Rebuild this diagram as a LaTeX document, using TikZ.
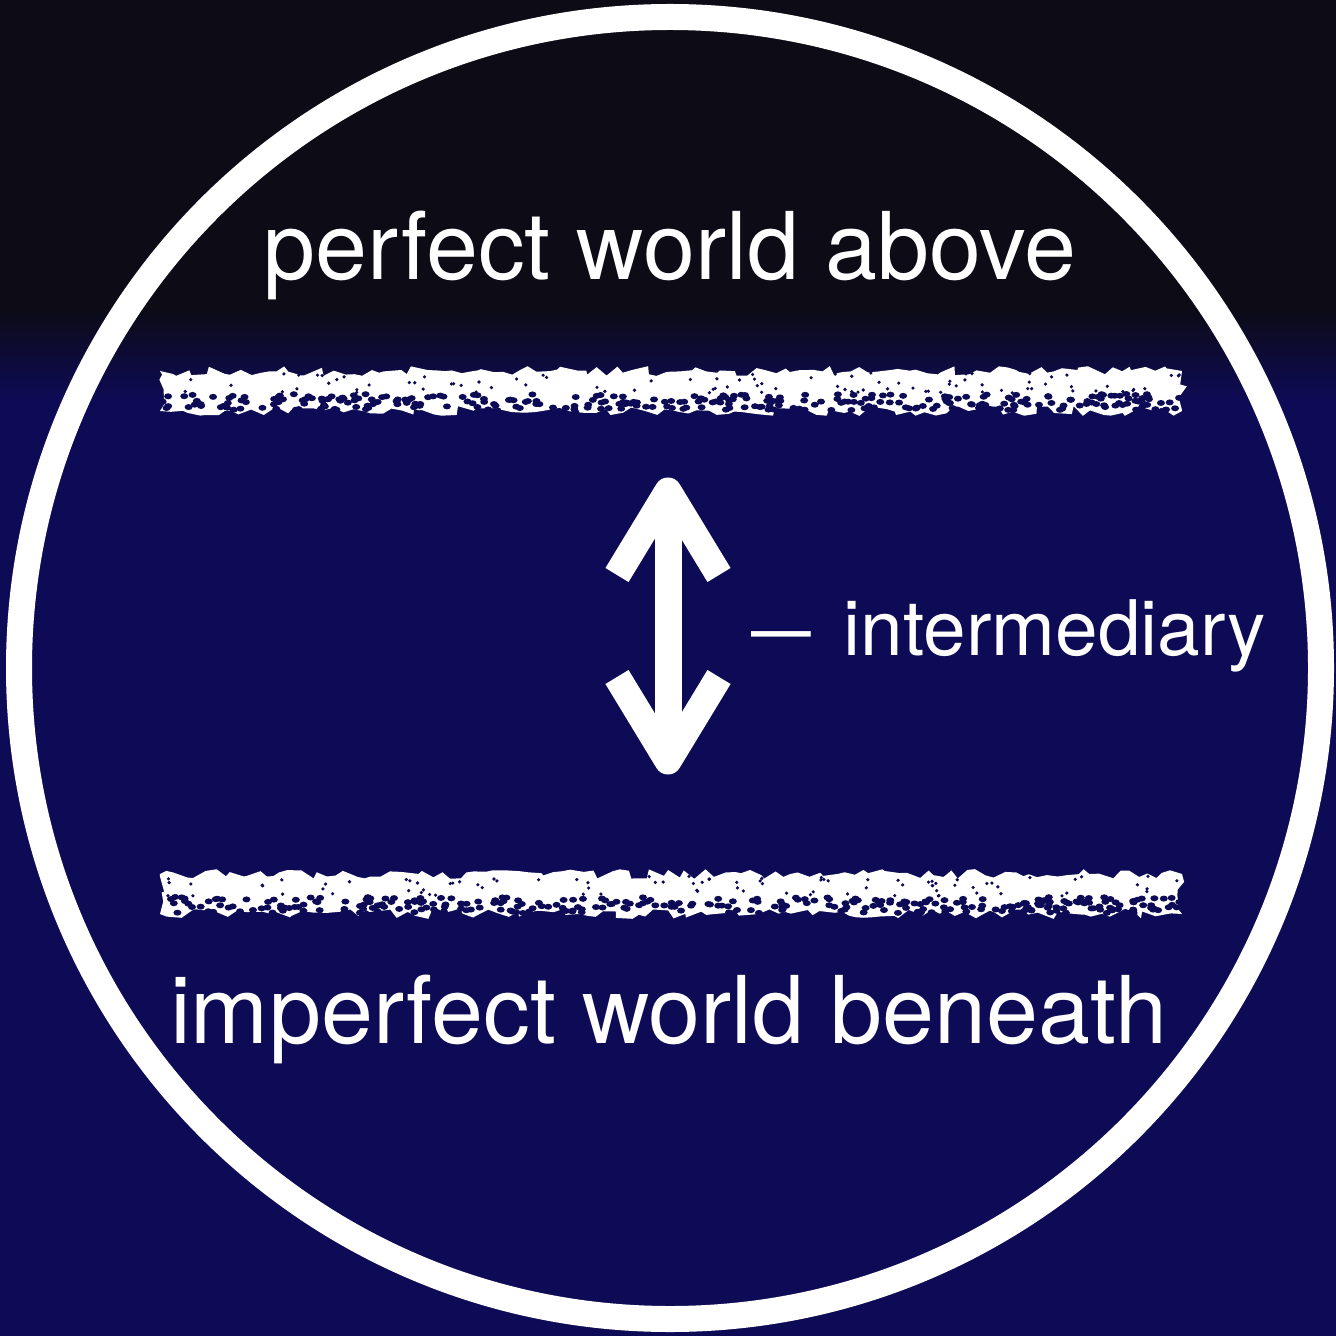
\documentclass[tikz,border=0pt]{standalone}
\usepackage{fontspec}
\setmainfont{TeX Gyre Heros}
\usepackage{tikz}
\usetikzlibrary{positioning,decorations.pathmorphing}
\definecolor{wldblack}{RGB}{12,11,22}
\definecolor{wldnavy}{RGB}{14,11,86}
% chalk stroke, centred on the given height
\newcommand{\chalkline}[1]{%
  \fill[white, decorate, decoration={random steps, segment length=2.5pt, amplitude=1.4pt}]
    (160,#1-19) -- (1182,#1-19) -- (1182,#1+21) -- (160,#1+21) -- cycle;
  \foreach \k in {1,...,300}{%
    \pgfmathsetmacro\sx{162+1018*rnd}%
    \pgfmathsetmacro\sy{#1+4+16*rnd}%
    \fill[wldnavy] (\sx,\sy) ellipse (4 and 3);}
  \foreach \k in {1,...,90}{%
    \pgfmathsetmacro\sx{162+1018*rnd}%
    \pgfmathsetmacro\sy{#1-17+20*rnd}%
    \fill[wldnavy] (\sx,\sy) circle (1.8);}
}

\begin{document}
\begin{tikzpicture}[
  x=0.1mm, y=-0.1mm,
  world/.style={text=white, inner sep=0pt, font=\fontsize{26.6}{30}\selectfont},
  side/.style={text=white, inner sep=0pt, font=\fontsize{21.8}{26}\selectfont},
  ring/.style={draw=white, line width=2.6mm},
  shaft/.style={draw=white, line width=2.7mm},
  chev/.style={draw=white, line width=2.7mm, line join=round}
]
  % --- background ---
  \useasboundingbox (0,0) rectangle (1336,1336);
  \fill[wldnavy] (0,0) rectangle (1336,1336);
  \fill[wldblack] (0,0) rectangle (1336,310);
  \shade[top color=wldblack, bottom color=wldnavy] (0,309) rectangle (1336,400);

  % --- ring ---
  \coordinate (centre) at (670,668);
  \draw[ring] (centre) circle (651);

  % --- labels ---
  \node[world, anchor=base] (above)   at (670,280)  {perfect world above};
  \node[world, anchor=base] (beneath) at (669,1043) {imperfect world beneath};
  \node[side, anchor=base west] (inter) at (751,655) {\scalebox{0.78}[1]{—}\hspace{1.1mm} intermediary};

  % --- chalk lines ---
  \pgfmathsetseed{17}
  \chalkline{390}
  \chalkline{893}

  % --- two-way arrow ---
  \coordinate (arrtop) at (668,491);
  \coordinate (arrbot) at (668,761);
  \draw[shaft] (arrtop) -- (arrbot);
  \draw[chev] (arrtop) ++(-51,84) -- (arrtop) -- ++(51,84);
  \draw[chev] (arrbot) ++(-51,-84) -- (arrbot) -- ++(51,-84);
\end{tikzpicture}
\end{document}
